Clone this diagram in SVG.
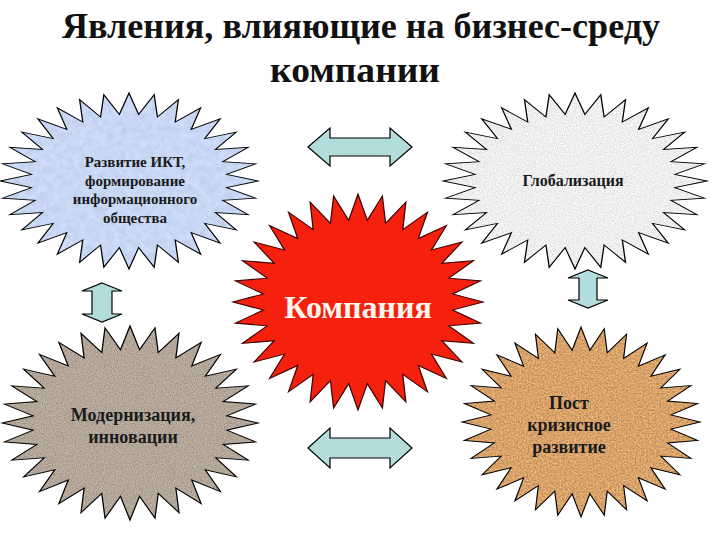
<svg xmlns="http://www.w3.org/2000/svg" xmlns:xlink="http://www.w3.org/1999/xlink" width="720" height="540" viewBox="0 0 720 540">
<style>
text{font-family:"Liberation Serif","DejaVu Serif",serif}
.title{font-weight:bold;font-size:35px;fill:#111;text-anchor:middle}
.lbl{font-weight:bold;fill:#1a1a1a;text-anchor:middle}
.edge{fill:none;stroke:#000;stroke-width:1;vector-effect:non-scaling-stroke}
.arrow{fill:#b3dcdc;stroke:#000;stroke-width:1.2;stroke-linejoin:miter}
</style>
<defs>
<polygon id="star" points="100,0 75.63,7.45 98.08,19.51 72.73,22.06 92.39,38.27 67.03,35.83 83.15,55.56 58.75,48.21 70.71,70.71 48.21,58.75 55.56,83.15 35.83,67.03 38.27,92.39 22.06,72.73 19.51,98.08 7.45,75.63 0,100 -7.45,75.63 -19.51,98.08 -22.06,72.73 -38.27,92.39 -35.83,67.03 -55.56,83.15 -48.21,58.75 -70.71,70.71 -58.75,48.21 -83.15,55.56 -67.03,35.83 -92.39,38.27 -72.73,22.06 -98.08,19.51 -75.63,7.45 -100,0 -75.63,-7.45 -98.08,-19.51 -72.73,-22.06 -92.39,-38.27 -67.03,-35.83 -83.15,-55.56 -58.75,-48.21 -70.71,-70.71 -48.21,-58.75 -55.56,-83.15 -35.83,-67.03 -38.27,-92.39 -22.06,-72.73 -19.51,-98.08 -7.45,-75.63 0,-100 7.45,-75.63 19.51,-98.08 22.06,-72.73 38.27,-92.39 35.83,-67.03 55.56,-83.15 48.21,-58.75 70.71,-70.71 58.75,-48.21 83.15,-55.56 67.03,-35.83 92.39,-38.27 72.73,-22.06 98.08,-19.51 75.63,-7.45"/>
<filter id="fine" x="0" y="0" width="100%" height="100%">
<feTurbulence type="fractalNoise" baseFrequency="0.9" numOctaves="2" seed="4" result="n"/>
<feColorMatrix in="n" type="matrix" values="1 0 0 0 0 1 0 0 0 0 1 0 0 0 0 0 0 0 0 1" result="g"/>
<feComposite in="SourceGraphic" in2="g" operator="arithmetic" k1="1.0" k2="0.5" k3="0" k4="0" result="c"/>
<feComposite in="c" in2="SourceGraphic" operator="in"/>
</filter>
<filter id="light" x="0" y="0" width="100%" height="100%">
<feTurbulence type="fractalNoise" baseFrequency="0.9" numOctaves="2" seed="5" result="n"/>
<feColorMatrix in="n" type="matrix" values="1 0 0 0 0 1 0 0 0 0 1 0 0 0 0 0 0 0 0 1" result="g"/>
<feComposite in="SourceGraphic" in2="g" operator="arithmetic" k1="0.6" k2="0.72" k3="0" k4="0" result="c"/>
<feComposite in="c" in2="SourceGraphic" operator="in"/>
</filter>
<filter id="soft" x="0" y="0" width="100%" height="100%">
<feTurbulence type="fractalNoise" baseFrequency="0.15" numOctaves="3" seed="7" result="n"/>
<feColorMatrix in="n" type="matrix" values="1 0 0 0 0 1 0 0 0 0 1 0 0 0 0 0 0 0 0 1" result="g"/>
<feComposite in="SourceGraphic" in2="g" operator="arithmetic" k1="0.3" k2="0.85" k3="0" k4="0" result="c"/>
<feComposite in="c" in2="SourceGraphic" operator="in"/>
</filter>
<filter id="grain" x="0" y="0" width="100%" height="100%">
<feTurbulence type="fractalNoise" baseFrequency="0.6" numOctaves="3" seed="11" result="n"/>
<feColorMatrix in="n" type="matrix" values="1 0 0 0 0 1 0 0 0 0 1 0 0 0 0 0 0 0 0 1" result="g"/>
<feComposite in="SourceGraphic" in2="g" operator="arithmetic" k1="1.2" k2="0.4" k3="0" k4="0" result="c"/>
<feComposite in="c" in2="SourceGraphic" operator="in"/>
</filter>
</defs>
<rect width="720" height="540" fill="#fff"/>
<g id="title">
<text class="title" x="361" y="38" textLength="598" lengthAdjust="spacingAndGlyphs">Явления, влияющие на бизнес-среду</text>
<text class="title" x="355" y="82" textLength="170" lengthAdjust="spacingAndGlyphs">компании</text>
</g>
<g id="node-ikt">
<g filter="url(#soft)"><use xlink:href="#star" transform="translate(129,181) scale(1.29,0.88)" fill="#c8d7f4"/></g>
<use xlink:href="#star" class="edge" transform="translate(129,181) scale(1.29,0.88)"/>
<text class="lbl" font-size="15" x="135" y="167">Развитие ИКТ,</text>
<text class="lbl" font-size="15" x="135" y="186">формирование</text>
<text class="lbl" font-size="15" x="135" y="204">информационного</text>
<text class="lbl" font-size="15" x="135" y="223">общества</text>
</g>
<g id="node-global">
<g filter="url(#light)"><use xlink:href="#star" transform="translate(575,181) scale(1.32,0.88)" fill="#ececec"/></g>
<use xlink:href="#star" class="edge" transform="translate(575,181) scale(1.32,0.88)"/>
<text class="lbl" font-size="16" x="573" y="186">Глобализация</text>
</g>
<g id="node-company">
<use xlink:href="#star" transform="translate(358,302) scale(1.25,1.08)" fill="#f5200e" stroke="#3a0000" stroke-width="1" vector-effect="non-scaling-stroke"/>
<text x="358" y="318" font-weight="bold" font-size="32" fill="#fff6ee" text-anchor="middle">Компания</text>
</g>
<g id="node-modern">
<g filter="url(#fine)"><use xlink:href="#star" transform="translate(130,423) scale(1.28,0.97)" fill="#b3a699"/></g>
<use xlink:href="#star" class="edge" transform="translate(130,423) scale(1.28,0.97)"/>
<text class="lbl" font-size="18" x="133" y="421">Модернизация,</text>
<text class="lbl" font-size="18" x="133" y="443">инновации</text>
</g>
<g id="node-post">
<g filter="url(#grain)"><use xlink:href="#star" transform="translate(581,422) scale(1.19,0.95)" fill="#d9a36a"/></g>
<use xlink:href="#star" class="edge" transform="translate(581,422) scale(1.19,0.95)"/>
<text class="lbl" font-size="18" x="569" y="409">Пост</text>
<text class="lbl" font-size="18" x="569" y="431">кризисное</text>
<text class="lbl" font-size="18" x="569" y="453">развитие</text>
</g>
<g id="connectors">
<path class="arrow" d="M308,147 L330,128 L330,138 L390,138 L390,128 L412,147 L390,166 L390,156 L330,156 L330,166 Z"/>
<path class="arrow" d="M308,448 L330,428 L330,438 L390,438 L390,428 L412,448 L390,468 L390,458 L330,458 L330,468 Z"/>
<path class="arrow" d="M102,283 L122,291 L112,291 L112,314 L122,314 L102,322 L82,314 L92,314 L92,291 L82,291 Z"/>
<path class="arrow" d="M588,270 L608,278 L597,278 L597,300 L608,300 L588,308 L568,300 L579,300 L579,278 L568,278 Z"/>
</g>
</svg>
